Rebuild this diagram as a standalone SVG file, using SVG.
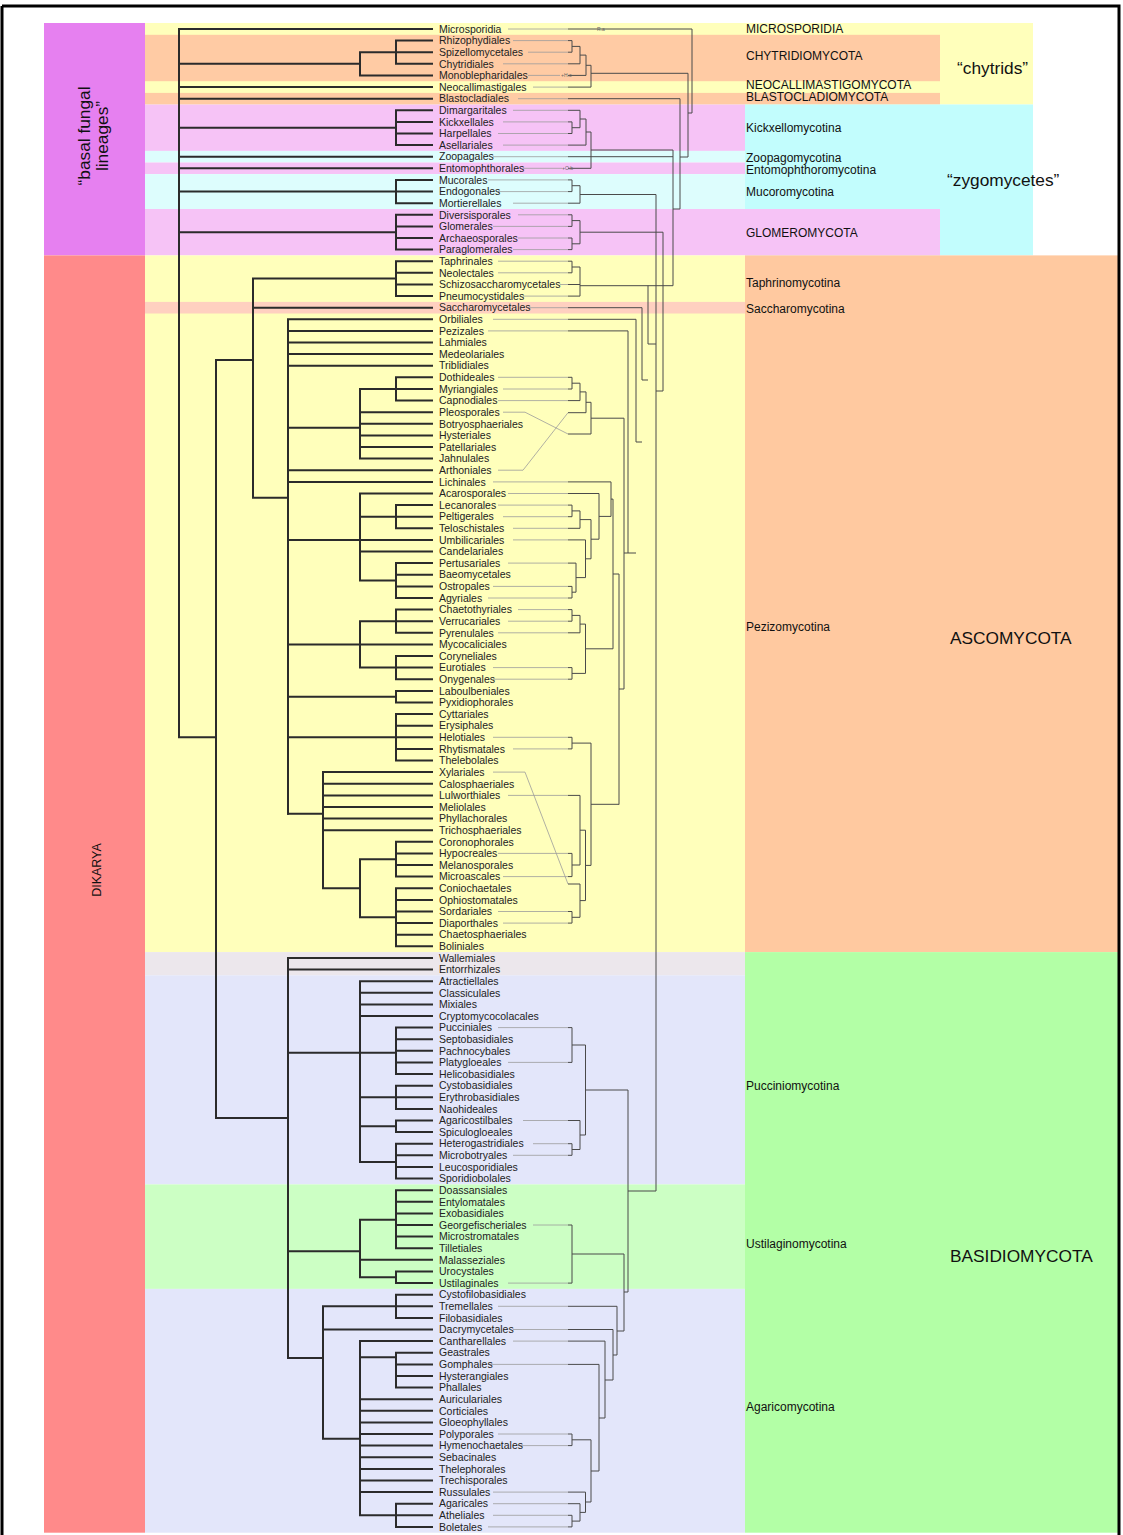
<svg xmlns="http://www.w3.org/2000/svg" width="1123" height="1535" viewBox="0 0 1123 1535">
<style>
.b{stroke:#2b2b2b;stroke-width:2;fill:none;stroke-linecap:square}
.g{stroke:#9c9c9c;stroke-width:0.8;fill:none}
.r{stroke:#4a4a4a;stroke-width:1;fill:none}
.t{font-family:"Liberation Sans",Arial,sans-serif;font-size:10.5px;fill:#222}
.c{font-family:"Liberation Sans",Arial,sans-serif;font-size:12px;fill:#111}
.big{font-family:"Liberation Sans",Arial,sans-serif;font-size:17.3px;fill:#111}
.dk{font-family:"Liberation Sans",Arial,sans-serif;font-size:12.5px;fill:#111}
.s{font-family:"Liberation Sans",Arial,sans-serif;font-size:5px;fill:#666}
</style>
<rect x="0" y="0" width="1123" height="1535" fill="#fff"/>
<g id="bands">
<rect x="44" y="23" width="101" height="232.4" fill="#E680F0"/>
<rect x="44" y="255.4" width="101" height="1277.3" fill="#FF8A8A"/>
<rect x="145" y="23" width="888" height="81.5" fill="#FFFFBB"/>
<rect x="145" y="34.8" width="795" height="46.4" fill="#FFCBA4"/>
<rect x="145" y="92.9" width="795" height="11.6" fill="#FFCBA4"/>
<rect x="745" y="104.5" width="288" height="150.9" fill="#C2FDFD"/>
<rect x="145" y="104.5" width="600" height="46.4" fill="#F6C3F6"/>
<rect x="145" y="150.9" width="600" height="11.6" fill="#DDFDFD"/>
<rect x="145" y="162.5" width="600" height="11.6" fill="#F6C3F6"/>
<rect x="145" y="174.1" width="600" height="34.9" fill="#DDFDFD"/>
<rect x="145" y="209" width="795" height="46.4" fill="#F6C3F6"/>
<rect x="145" y="255.4" width="600" height="696.7" fill="#FFFFBB"/>
<rect x="145" y="301.9" width="600" height="11.6" fill="#FFD0C0"/>
<rect x="745" y="255.4" width="375" height="696.7" fill="#FFC9A0"/>
<rect x="145" y="952.1" width="600" height="23.2" fill="#ECE7EC"/>
<rect x="145" y="975.3" width="600" height="209.1" fill="#E3E6FA"/>
<rect x="145" y="1184.4" width="600" height="104.5" fill="#CCFFC4"/>
<rect x="145" y="1288.9" width="600" height="243.8" fill="#E3E6FA"/>
<rect x="745" y="952.1" width="375" height="580.6" fill="#B3FFA6"/>
</g>
<g id="frame">
<path d="M2 6 H1119 V1535 M2 6 V1535" stroke="#000" stroke-width="3" fill="none"/>
</g>
<g id="connectors">
<path class="b" d="M179 29V737.3M179 29H432M179 63.8H360M360 52.2V75.4M360 52.2H396M396 40.6V63.8M396 40.6H432M396 52.2H432M396 63.8H432M360 75.4H432M179 87.1H432M179 98.7H432M179 127.7H396M396 110.3V145.1M396 110.3H432M396 121.9H432M396 133.5H432M396 145.1H432M179 156.7H432M179 168.3H432M179 191.6H396M396 179.9V203.2M396 179.9H432M396 191.6H432M396 203.2H432M179 232.2H396M396 214.8V249.6M396 214.8H432M396 226.4H432M396 238H432M396 249.6H432M179 737.3H216"/>
<path class="b" d="M216 360V1118M216 360H253M253 278.6V497.7M253 278.6H396M396 261.2V296.1M396 261.2H432M396 272.8H432M396 284.5H432M396 296.1H432M253 307.7H432M253 497.7H288M288 319.3V813.7M288 319.3H432M288 330.9H432M288 342.5H432M288 354.1H432M288 365.7H432M288 427.7H360M360 389V458.6M360 389H396M396 377.3V400.6M396 377.3H432M396 389H432M396 400.6H432M360 412.2H432M360 423.8H432M360 435.4H432M360 447H432M360 458.6H432M288 470.2H432M288 481.9H432"/>
<path class="b" d="M288 539.9H432M360 493.5V580.5M360 493.5H432M360 516.7H396M396 505.1V528.3M396 505.1H432M396 516.7H432M396 528.3H432M360 551.5H432M360 580.5H396M396 563.1V598M396 563.1H432M396 574.7H432M396 586.4H432M396 598H432M360 621.2V667.6M360 621.2H396M396 609.6V632.8M396 609.6H432M396 621.2H432M396 632.8H432M288 644.4H432M360 667.6H396M396 656V679.2M396 656H432M396 667.6H432M396 679.2H432M288 696.7H396M396 690.9V702.5M396 690.9H432M396 702.5H432M288 737.3H396M396 714.1V760.5M396 714.1H432M396 725.7H432M396 737.3H432M396 748.9H432M396 760.5H432"/>
<path class="b" d="M288 813.7H323M323 772.1V888.3M323 772.1H432M323 783.8H432M323 795.4H432M323 807H432M323 818.6H432M323 830.2H432M323 888.3H360M360 859.2V917.3M360 859.2H396M396 841.8V876.6M396 841.8H432M396 853.4H432M396 865H432M396 876.6H432M360 917.3H396M396 888.3V946.3M396 888.3H432M396 899.9H432M396 911.5H432M396 923.1H432M396 934.7H432M396 946.3H432"/>
<path class="b" d="M216 1118H288M288 957.9V1358M288 957.9H432M288 969.5H432M288 1052.7H396M360 981.2V1162M360 981.2H432M360 992.8H432M360 1004.4H432M360 1016H432M396 1027.6V1074.1M396 1027.6H432M396 1039.2H432M396 1050.8H432M396 1062.4H432M396 1074.1H432M360 1097.3H396M396 1085.7V1108.9M396 1085.7H432M396 1097.3H432M396 1108.9H432M360 1126.3H396M396 1120.5V1132.1M396 1120.5H432M396 1132.1H432M360 1162H396M396 1143.7V1178.6M396 1143.7H432M396 1155.3H432M396 1167H432M396 1178.6H432"/>
<path class="b" d="M288 1251.3H360M360 1219.7V1277.3M360 1219.7H396M396 1190.2V1248.2M396 1190.2H432M396 1201.8H432M396 1213.4H432M396 1225H432M396 1236.6H432M396 1248.2H432M360 1259.8H432M360 1277.3H396M396 1271.5V1283.1M396 1271.5H432M396 1283.1H432"/>
<path class="b" d="M288 1358H323M323 1306.3V1438.7M323 1306.3H396M396 1294.7V1317.9M396 1294.7H432M396 1306.3H432M396 1317.9H432M323 1329.5H432M323 1438.7H360M360 1341.1V1515.3M360 1341.1H432M360 1357.3H396M396 1352.7V1387.6M396 1352.7H432M396 1364.4H432M396 1376H432M396 1387.6H432M360 1399.2H432M360 1410.8H432M360 1422.4H432M360 1434H432M360 1445.6H432M360 1457.3H432M360 1468.9H432M360 1480.5H432M360 1492.1H432M360 1515.3H396M396 1503.7V1526.9M396 1503.7H432M396 1515.3H432M396 1526.9H432"/>
<path class="g" d="M508 29H568M513 40.6H568M528 52.2H568M503 63.8H568M528 75.4H560M533 87.1H568M518 98.7H568M513 110.3H568M503 121.9H568M498 133.5H568M503 145.1H568M493 156.7H568M523 168.3H562M488 179.9H568M498 191.6H568M513 203.2H568M518 214.8H568M493 226.4H568M518 238H568M513 249.6H568M498 261.2H568M498 272.8H568M560 284.5H568M523 296.1H568M528 307.7H568M493 319.3H568M488 330.9H568M498 377.3H568M503 389H568M498 400.6H568M503 412.2H525L568 434M498 470.2H523L568 412.7M493 481.9H568M508 493.5H568M498 505.1H568M503 516.7H568M513 528.3H568M513 539.9H568M508 563.1H568M493 586.4H568M488 598H568M518 609.6H568M508 621.2H568M498 632.8H568M493 667.6H568M493 679.2H568M493 737.3H568M513 748.9H568M493 772.1H525L568 884M508 795.4H568M498 853.4H568M503 876.6H568M498 911.5H568M503 923.1H568M498 1027.6H568M508 1062.4H568M523 1120.5H568M533 1143.7H568M513 1155.3H568M533 1225H568M508 1283.1H568M498 1306.3H568M513 1329.5H568M513 1341.1H568M488 1364.4H568M498 1434H568M518 1445.6H568M493 1492.1H568M493 1503.7H568M493 1515.3H568M488 1526.9H568"/>
<path class="r" d="M568 29H692V113M568 40.6H572V52.2H568M572 46.4H580M568 63.8H580M580 46.4V63.8M580 55.1H586M568 75.4H586M586 55.1V75.4M586 65.3H591M568 87.1H591M591 65.3V87.1M591 73.3H688V157M688 113H692M568 98.7H680V209M680 157H688M568 110.3H580M568 121.9H572V133.5H568M572 127.7H580M580 110.3V127.7M580 119H586M568 145.1H586M586 119V145.1M586 132H591M568 168.3H591M591 132V168.3M591 150H673M568 156.7H673M673 150V285.7M673 209H680M568 179.9H572V191.6H568M572 185.7H580M568 203.2H580M580 185.7V203.2M580 194.5H656M568 214.8H572V226.4H568M568 238H572V249.6H568M572 220.6H580M572 243.8H580M580 220.6V243.8M580 232.2H663V391H656"/>
<path class="r" d="M568 261.2H572V272.8H568M572 267H580M580 267V296.1M568 284.5H580M568 296.1H580M580 285.7H673M648 285.7V344M568 307.7H642V380M568 319.3H636V442M568 330.9H628V553M636 442H642M642 380H648M628 553H636M648 344H656M656 194.5V1191"/>
<path class="r" d="M568 377.3H572V389H568M572 383.2H580M568 400.6H580M580 383.2V400.6M580 391.9H586M568 412.7H586M586 391.9V412.7M586 402.3H591M568 434H591M591 402.3V434M591 418.2H624V689M624 553H628"/>
<path class="r" d="M568 481.9H611M568 493.5H599M568 505.1H572V516.7H568M572 510.9H580M568 528.3H580M580 510.9V528.3M580 519.6H591M568 539.9H585.5M568 586.4H572V598H568M572 592.2H576M568 563.1H576M576 563.1V592.2M576 577.6H585.5M585.5 539.9V577.6M585.5 558.8H591M591 519.6V558.8M591 539.2H599M599 493.5V539.2M599 516.4H611M611 481.9V516.4M611 499.1H613"/>
<path class="r" d="M568 609.6H572V621.2H568M572 615.4H580M568 632.8H580M580 615.4V632.8M580 624.1H585.5M568 667.6H572V679.2H568M572 673.4H585.5M585.5 624.1V673.4M585.5 648.8H613M613 499.1V648.8M613 574H619M619 574V804.6M619 689H624"/>
<path class="r" d="M568 737.3H572V748.9H568M572 743.1H591M568 795.4H580M568 853.4H572V876.6H568M572 865H580M580 795.4V865M580 830.2H585.5M568 884H580M568 911.5H572V923.1H568M572 917.3H580M580 884V917.3M580 900.6H585.5M585.5 830.2V900.6M585.5 865.4H591M591 743.1V865.4M591 804.3H619"/>
<path class="r" d="M568 1027.6H572V1062.4H568M572 1045H585.5M568 1120.5H580M568 1143.7H572V1155.3H568M572 1149.5H580M580 1120.5V1149.5M580 1135H585.5M585.5 1045V1135M585.5 1090H628M628 1090V1292M628 1191H656"/>
<path class="r" d="M568 1225H572V1283.1H568M572 1254H624M624 1254V1331M568 1306.3H617M617 1306.3V1355M617 1331H624M568 1329.5H613M613 1329.5V1380M613 1355H617M568 1341.1H605M605 1341.1V1418M605 1380H613M568 1364.4H599M599 1364.4V1471M599 1418H605M568 1434H572V1445.6H568M572 1439.8H591M591 1439.8V1502M591 1471H599M568 1492.1H585.5M585.5 1492.1V1512.4M585.5 1502H591M568 1503.7H580M568 1515.3H572V1526.9H568M572 1521.1H580M580 1503.7V1521.1M580 1512.4H585.5M624 1292H628"/>
<text class="s" x="597" y="31">R.a</text>
<text class="s" x="561" y="77">+H.c</text>
<text class="s" x="562" y="170">+O.b</text>
</g>
<g id="leaves">
<g id="n1"><text class="t" x="439" y="32.7">Microsporidia</text></g>
<g id="n2"><text class="t" x="439" y="44.3">Rhizophydiales</text></g>
<g id="n3"><text class="t" x="439" y="55.9">Spizellomycetales</text></g>
<g id="n4"><text class="t" x="439" y="67.5">Chytridiales</text></g>
<g id="n5"><text class="t" x="439" y="79.1">Monoblepharidales</text></g>
<g id="n6"><text class="t" x="439" y="90.8">Neocallimastigales</text></g>
<g id="n7"><text class="t" x="439" y="102.4">Blastocladiales</text></g>
<g id="n8"><text class="t" x="439" y="114">Dimargaritales</text></g>
<g id="n9"><text class="t" x="439" y="125.6">Kickxellales</text></g>
<g id="n10"><text class="t" x="439" y="137.2">Harpellales</text></g>
<g id="n11"><text class="t" x="439" y="148.8">Asellariales</text></g>
<g id="n12"><text class="t" x="439" y="160.4">Zoopagales</text></g>
<g id="n13"><text class="t" x="439" y="172">Entomophthorales</text></g>
<g id="n14"><text class="t" x="439" y="183.6">Mucorales</text></g>
<g id="n15"><text class="t" x="439" y="195.3">Endogonales</text></g>
<g id="n16"><text class="t" x="439" y="206.9">Mortierellales</text></g>
<g id="n17"><text class="t" x="439" y="218.5">Diversisporales</text></g>
<g id="n18"><text class="t" x="439" y="230.1">Glomerales</text></g>
<g id="n19"><text class="t" x="439" y="241.7">Archaeosporales</text></g>
<g id="n20"><text class="t" x="439" y="253.3">Paraglomerales</text></g>
<g id="n21"><text class="t" x="439" y="264.9">Taphrinales</text></g>
<g id="n22"><text class="t" x="439" y="276.5">Neolectales</text></g>
<g id="n23"><text class="t" x="439" y="288.2">Schizosaccharomycetales</text></g>
<g id="n24"><text class="t" x="439" y="299.8">Pneumocystidales</text></g>
<g id="n25"><text class="t" x="439" y="311.4">Saccharomycetales</text></g>
<g id="n26"><text class="t" x="439" y="323">Orbiliales</text></g>
<g id="n27"><text class="t" x="439" y="334.6">Pezizales</text></g>
<g id="n28"><text class="t" x="439" y="346.2">Lahmiales</text></g>
<g id="n29"><text class="t" x="439" y="357.8">Medeolariales</text></g>
<g id="n30"><text class="t" x="439" y="369.4">Triblidiales</text></g>
<g id="n31"><text class="t" x="439" y="381">Dothideales</text></g>
<g id="n32"><text class="t" x="439" y="392.7">Myriangiales</text></g>
<g id="n33"><text class="t" x="439" y="404.3">Capnodiales</text></g>
<g id="n34"><text class="t" x="439" y="415.9">Pleosporales</text></g>
<g id="n35"><text class="t" x="439" y="427.5">Botryosphaeriales</text></g>
<g id="n36"><text class="t" x="439" y="439.1">Hysteriales</text></g>
<g id="n37"><text class="t" x="439" y="450.7">Patellariales</text></g>
<g id="n38"><text class="t" x="439" y="462.3">Jahnulales</text></g>
<g id="n39"><text class="t" x="439" y="473.9">Arthoniales</text></g>
<g id="n40"><text class="t" x="439" y="485.6">Lichinales</text></g>
<g id="n41"><text class="t" x="439" y="497.2">Acarosporales</text></g>
<g id="n42"><text class="t" x="439" y="508.8">Lecanorales</text></g>
<g id="n43"><text class="t" x="439" y="520.4">Peltigerales</text></g>
<g id="n44"><text class="t" x="439" y="532">Teloschistales</text></g>
<g id="n45"><text class="t" x="439" y="543.6">Umbilicariales</text></g>
<g id="n46"><text class="t" x="439" y="555.2">Candelariales</text></g>
<g id="n47"><text class="t" x="439" y="566.8">Pertusariales</text></g>
<g id="n48"><text class="t" x="439" y="578.4">Baeomycetales</text></g>
<g id="n49"><text class="t" x="439" y="590.1">Ostropales</text></g>
<g id="n50"><text class="t" x="439" y="601.7">Agyriales</text></g>
<g id="n51"><text class="t" x="439" y="613.3">Chaetothyriales</text></g>
<g id="n52"><text class="t" x="439" y="624.9">Verrucariales</text></g>
<g id="n53"><text class="t" x="439" y="636.5">Pyrenulales</text></g>
<g id="n54"><text class="t" x="439" y="648.1">Mycocaliciales</text></g>
<g id="n55"><text class="t" x="439" y="659.7">Coryneliales</text></g>
<g id="n56"><text class="t" x="439" y="671.3">Eurotiales</text></g>
<g id="n57"><text class="t" x="439" y="682.9">Onygenales</text></g>
<g id="n58"><text class="t" x="439" y="694.6">Laboulbeniales</text></g>
<g id="n59"><text class="t" x="439" y="706.2">Pyxidiophorales</text></g>
<g id="n60"><text class="t" x="439" y="717.8">Cyttariales</text></g>
<g id="n61"><text class="t" x="439" y="729.4">Erysiphales</text></g>
<g id="n62"><text class="t" x="439" y="741">Helotiales</text></g>
<g id="n63"><text class="t" x="439" y="752.6">Rhytismatales</text></g>
<g id="n64"><text class="t" x="439" y="764.2">Thelebolales</text></g>
<g id="n65"><text class="t" x="439" y="775.8">Xylariales</text></g>
<g id="n66"><text class="t" x="439" y="787.5">Calosphaeriales</text></g>
<g id="n67"><text class="t" x="439" y="799.1">Lulworthiales</text></g>
<g id="n68"><text class="t" x="439" y="810.7">Meliolales</text></g>
<g id="n69"><text class="t" x="439" y="822.3">Phyllachorales</text></g>
<g id="n70"><text class="t" x="439" y="833.9">Trichosphaeriales</text></g>
<g id="n71"><text class="t" x="439" y="845.5">Coronophorales</text></g>
<g id="n72"><text class="t" x="439" y="857.1">Hypocreales</text></g>
<g id="n73"><text class="t" x="439" y="868.7">Melanosporales</text></g>
<g id="n74"><text class="t" x="439" y="880.3">Microascales</text></g>
<g id="n75"><text class="t" x="439" y="892">Coniochaetales</text></g>
<g id="n76"><text class="t" x="439" y="903.6">Ophiostomatales</text></g>
<g id="n77"><text class="t" x="439" y="915.2">Sordariales</text></g>
<g id="n78"><text class="t" x="439" y="926.8">Diaporthales</text></g>
<g id="n79"><text class="t" x="439" y="938.4">Chaetosphaeriales</text></g>
<g id="n80"><text class="t" x="439" y="950">Boliniales</text></g>
<g id="n81"><text class="t" x="439" y="961.6">Wallemiales</text></g>
<g id="n82"><text class="t" x="439" y="973.2">Entorrhizales</text></g>
<g id="n83"><text class="t" x="439" y="984.9">Atractiellales</text></g>
<g id="n84"><text class="t" x="439" y="996.5">Classiculales</text></g>
<g id="n85"><text class="t" x="439" y="1008.1">Mixiales</text></g>
<g id="n86"><text class="t" x="439" y="1019.7">Cryptomycocolacales</text></g>
<g id="n87"><text class="t" x="439" y="1031.3">Pucciniales</text></g>
<g id="n88"><text class="t" x="439" y="1042.9">Septobasidiales</text></g>
<g id="n89"><text class="t" x="439" y="1054.5">Pachnocybales</text></g>
<g id="n90"><text class="t" x="439" y="1066.1">Platygloeales</text></g>
<g id="n91"><text class="t" x="439" y="1077.8">Helicobasidiales</text></g>
<g id="n92"><text class="t" x="439" y="1089.4">Cystobasidiales</text></g>
<g id="n93"><text class="t" x="439" y="1101">Erythrobasidiales</text></g>
<g id="n94"><text class="t" x="439" y="1112.6">Naohideales</text></g>
<g id="n95"><text class="t" x="439" y="1124.2">Agaricostilbales</text></g>
<g id="n96"><text class="t" x="439" y="1135.8">Spiculogloeales</text></g>
<g id="n97"><text class="t" x="439" y="1147.4">Heterogastridiales</text></g>
<g id="n98"><text class="t" x="439" y="1159">Microbotryales</text></g>
<g id="n99"><text class="t" x="439" y="1170.7">Leucosporidiales</text></g>
<g id="n100"><text class="t" x="439" y="1182.3">Sporidiobolales</text></g>
<g id="n101"><text class="t" x="439" y="1193.9">Doassansiales</text></g>
<g id="n102"><text class="t" x="439" y="1205.5">Entylomatales</text></g>
<g id="n103"><text class="t" x="439" y="1217.1">Exobasidiales</text></g>
<g id="n104"><text class="t" x="439" y="1228.7">Georgefischeriales</text></g>
<g id="n105"><text class="t" x="439" y="1240.3">Microstromatales</text></g>
<g id="n106"><text class="t" x="439" y="1251.9">Tilletiales</text></g>
<g id="n107"><text class="t" x="439" y="1263.5">Malasseziales</text></g>
<g id="n108"><text class="t" x="439" y="1275.2">Urocystales</text></g>
<g id="n109"><text class="t" x="439" y="1286.8">Ustilaginales</text></g>
<g id="n110"><text class="t" x="439" y="1298.4">Cystofilobasidiales</text></g>
<g id="n111"><text class="t" x="439" y="1310">Tremellales</text></g>
<g id="n112"><text class="t" x="439" y="1321.6">Filobasidiales</text></g>
<g id="n113"><text class="t" x="439" y="1333.2">Dacrymycetales</text></g>
<g id="n114"><text class="t" x="439" y="1344.8">Cantharellales</text></g>
<g id="n115"><text class="t" x="439" y="1356.4">Geastrales</text></g>
<g id="n116"><text class="t" x="439" y="1368.1">Gomphales</text></g>
<g id="n117"><text class="t" x="439" y="1379.7">Hysterangiales</text></g>
<g id="n118"><text class="t" x="439" y="1391.3">Phallales</text></g>
<g id="n119"><text class="t" x="439" y="1402.9">Auriculariales</text></g>
<g id="n120"><text class="t" x="439" y="1414.5">Corticiales</text></g>
<g id="n121"><text class="t" x="439" y="1426.1">Gloeophyllales</text></g>
<g id="n122"><text class="t" x="439" y="1437.7">Polyporales</text></g>
<g id="n123"><text class="t" x="439" y="1449.3">Hymenochaetales</text></g>
<g id="n124"><text class="t" x="439" y="1461">Sebacinales</text></g>
<g id="n125"><text class="t" x="439" y="1472.6">Thelephorales</text></g>
<g id="n126"><text class="t" x="439" y="1484.2">Trechisporales</text></g>
<g id="n127"><text class="t" x="439" y="1495.8">Russulales</text></g>
<g id="n128"><text class="t" x="439" y="1507.4">Agaricales</text></g>
<g id="n129"><text class="t" x="439" y="1519">Atheliales</text></g>
<g id="n130"><text class="t" x="439" y="1530.6">Boletales</text></g>
</g>
<g id="groups">
<g id="g-micro"><text class="c" x="746" y="33.3">MICROSPORIDIA</text></g>
<g id="g-chytr"><text class="c" x="746" y="60">CHYTRIDIOMYCOTA</text></g>
<g id="g-neoc"><text class="c" x="746" y="89">NEOCALLIMASTIGOMYCOTA</text></g>
<g id="g-blast"><text class="c" x="746" y="101">BLASTOCLADIOMYCOTA</text></g>
<g id="g-kick"><text class="c" x="746" y="131.5">Kickxellomycotina</text></g>
<g id="g-zoo"><text class="c" x="746" y="162">Zoopagomycotina</text></g>
<g id="g-ento"><text class="c" x="746" y="173.5">Entomophthoromycotina</text></g>
<g id="g-muco"><text class="c" x="746" y="196">Mucoromycotina</text></g>
<g id="g-glom"><text class="c" x="746" y="236.5">GLOMEROMYCOTA</text></g>
<g id="g-taph"><text class="c" x="746" y="286.5">Taphrinomycotina</text></g>
<g id="g-sacc"><text class="c" x="746" y="312.5">Saccharomycotina</text></g>
<g id="g-pezi"><text class="c" x="746" y="630.5">Pezizomycotina</text></g>
<g id="g-pucc"><text class="c" x="746" y="1089.5">Pucciniomycotina</text></g>
<g id="g-usti"><text class="c" x="746" y="1247.5">Ustilaginomycotina</text></g>
<g id="g-agar"><text class="c" x="746" y="1410.5">Agaricomycotina</text></g>
<g id="g-chytrids"><text class="big" x="957" y="74">“chytrids”</text></g>
<g id="g-zygo"><text class="big" x="947" y="186">“zygomycetes”</text></g>
<g id="g-asco"><text class="big" x="950" y="644">ASCOMYCOTA</text></g>
<g id="g-basid"><text class="big" x="950" y="1262">BASIDIOMYCOTA</text></g>
<g id="g-basal"><text class="big" x="0" y="0" text-anchor="middle" transform="translate(90 136) rotate(-90)">“basal fungal</text><text class="big" x="0" y="0" text-anchor="middle" transform="translate(108 136) rotate(-90)">lineages”</text></g>
<g id="g-dik"><text class="dk" x="0" y="0" text-anchor="middle" transform="translate(101 870) rotate(-90)">DIKARYA</text></g>
</g>
</svg>
